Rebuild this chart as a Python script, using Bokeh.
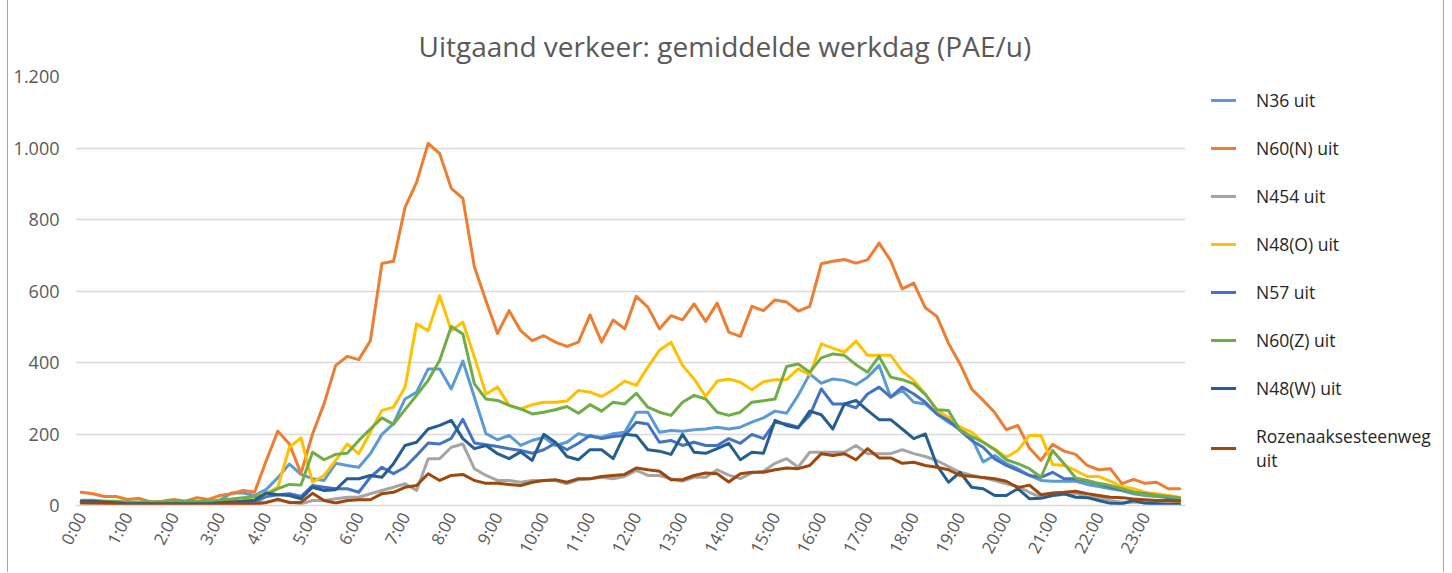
from bokeh.plotting import figure
from bokeh.models import Legend, LegendItem, FixedTicker, Range1d
from bokeh.embed import file_html
from bokeh.resources import INLINE
import math

# ---------------- data ----------------
slots = list(range(96))  # quarter hours 0:00 .. 23:45
hour_ticks = list(range(0, 96, 4))
hour_labels = [f"{h}:00" for h in range(24)]
y_ticks = [0, 200, 400, 600, 800, 1000, 1200]
y_labels = ["0", "200", "400", "600", "800", "1.000", "1.200"]

title_text = "Uitgaand verkeer: gemiddelde werkdag (PAE/u)"

names = ["N36 uit", "N60(N) uit", "N454 uit", "N48(O) uit", "N57 uit",
         "N60(Z) uit", "N48(W) uit", "Rozenaaksesteenweg\nuit"]

n36 = [12, 12, 10, 8, 6, 5, 5, 5, 5, 5, 6, 8, 15, 35, 35, 28, 45, 78, 116, 87,
       75, 70, 118, 112, 107, 145, 199, 229, 298, 317, 382, 382, 326, 404, 303, 201, 184, 196, 168, 182, 191,
       168, 177, 201, 193, 191, 201, 205, 261, 261, 205, 210, 208, 212, 214, 219, 214, 219, 233, 245, 264,
       258, 308, 368, 342, 354, 350, 338, 359, 392, 303, 322, 289, 284, 256, 233, 214, 189, 122, 140,
       117, 103, 84, 70, 68, 68, 68, 59, 53, 47, 42, 33, 28, 25, 23, 22]

n60n = [37, 33, 25, 25, 17, 20, 10, 12, 17, 12, 22, 17, 28, 33, 42, 38, 126, 208, 172, 90,
        200, 285, 392, 417, 408, 461, 677, 683, 834, 904, 1013, 984, 887, 859, 667, 573, 481, 545, 489, 461, 475,
        457, 445, 457, 533, 457, 519, 494, 585, 555, 494, 531, 519, 564, 515, 566, 485, 473, 557, 545, 575,
        569, 544, 557, 676, 683, 688, 678, 687, 734, 685, 606, 622, 553, 529, 454, 396, 326, 294, 260,
        212, 224, 161, 126, 171, 152, 143, 112, 100, 103, 61, 73, 62, 65, 47, 47]

n454 = [5, 5, 4, 3, 3, 3, 3, 3, 3, 3, 3, 3, 4, 5, 6, 8, 10, 15, 10, 5,
        14, 14, 19, 23, 23, 33, 42, 51, 61, 42, 131, 131, 163, 172, 103, 84, 70, 70, 65, 70, 70,
        70, 61, 72, 75, 79, 75, 81, 98, 84, 84, 75, 68, 79, 79, 100, 85, 75, 91, 96, 118,
        131, 107, 149, 149, 149, 149, 168, 145, 145, 145, 156, 145, 137, 126, 109, 93, 85, 78, 70,
        61, 53, 37, 23, 28, 31, 34, 23, 22, 14, 9, 9, 9, 9, 6, 5]

n48o = [10, 10, 8, 6, 5, 5, 5, 5, 6, 6, 8, 8, 10, 12, 18, 25, 35, 51, 163, 189,
        65, 84, 126, 172, 145, 205, 266, 275, 331, 508, 489, 587, 489, 513, 415, 312, 331, 280, 270, 282, 289,
        289, 292, 322, 317, 305, 324, 348, 336, 387, 434, 457, 392, 354, 305, 348, 354, 345, 324, 346, 352,
        352, 382, 366, 452, 440, 429, 460, 420, 420, 420, 376, 350, 312, 266, 247, 219, 205, 177, 158,
        135, 154, 196, 196, 115, 112, 98, 81, 81, 68, 53, 47, 37, 33, 28, 23]

n57 = [10, 10, 8, 5, 5, 5, 3, 3, 3, 3, 5, 5, 3, 3, 5, 10, 25, 30,
       33, 25, 56, 51, 47, 47, 37, 79, 107, 89, 107, 140, 175, 172, 188, 241, 175, 170, 165, 159, 154, 146, 156,
       174, 156, 174, 196, 187, 193, 196, 233, 228, 177, 182, 168, 177, 168, 168, 187, 174, 199, 187, 233,
       228, 219, 252, 326, 284, 284, 273, 312, 331, 303, 331, 312, 289, 256, 238, 210, 182, 163, 130,
       112, 98, 84, 79, 93, 75, 75, 68, 61, 51, 44, 37, 33, 28, 22, 16]

n60z = [15, 15, 12, 12, 10, 10, 10, 10, 12, 12, 12, 12, 15, 18, 22, 25,
        30, 47, 59, 57,
        149, 128, 143, 146, 182, 214, 245, 227, 268, 308, 350, 406, 501, 480, 340, 298, 294, 280, 270, 256, 261,
        268, 277, 258, 282, 264, 289, 284, 314, 275, 261, 252, 289, 308, 298, 261, 252, 261, 289, 293, 298,
        389, 396, 373, 413, 424, 420, 394, 373, 417, 359, 352, 340, 310, 268, 266, 210, 193, 177, 156,
        128, 117, 103, 79, 154, 117, 77, 70, 62, 56, 47, 37, 31, 28, 25, 22]

n48w = [12, 12, 10, 8, 5, 5, 5, 5, 5, 5, 5, 5, 8, 10, 12, 15, 35, 30,
        28, 19, 51, 42, 44, 75, 75, 84, 79, 117, 168, 177, 214, 224, 238, 187, 159, 168, 145, 131, 150, 126, 199,
        177, 137, 128, 156, 156, 131, 199, 196, 156, 152, 143, 199, 149, 146, 159, 174, 128, 149, 146, 238,
        224, 217, 264, 254, 214, 284, 294, 266, 240, 240, 214, 187, 200, 112, 65, 93, 51, 47, 28,
        28, 47, 19, 20, 28, 33, 23, 22, 14, 6, 5, 14, 6, 5, 3, 3]

rozen = [8, 7, 6, 4, 3, 3, 3, 3, 3, 3, 3, 3, 4, 5, 5, 4, 8, 18, 8, 9,
         34, 14, 7, 14, 16, 16, 33, 37, 51, 56, 89, 70, 84, 87, 70, 62, 62, 59, 56, 65, 70,
         72, 65, 75, 75, 81, 84, 87, 105, 100, 96, 72, 72, 84, 91, 89, 66, 89, 93, 93, 100,
         105, 103, 112, 145, 140, 145, 128, 159, 133, 133, 118, 121, 112, 107, 100, 84, 82, 78, 75,
         68, 50, 57, 30, 35, 37, 40, 33, 28, 23, 22, 18, 16, 14, 14, 12]

series = [n36, n60n, n454, n48o, n57, n60z, n48w, rozen]

# ---------------- style ----------------
colors = ["#5B9BD5", "#ED7D31", "#A5A5A5", "#FFC000", "#4472C4", "#70AD47", "#255E91", "#9E480E"]
FONT = "Open Sans"
GREY = "#595959"

p = figure(frame_width=1110, frame_height=429, output_backend="svg", toolbar_location=None,
           x_range=Range1d(-0.5, 95.5), y_range=Range1d(0, 1200),
           min_border_left=75, min_border_right=266, min_border_top=76, min_border_bottom=67)
p.outline_line_color = None
p.background_fill_color = "white"
p.border_fill_color = None
p.styles = {"background": "linear-gradient(to right, #ffffff 7px, #A6A6A6 7px, #A6A6A6 8px, "
                          "#ffffff 8px, #ffffff 1443px, #A6A6A6 1443px, #A6A6A6 1444px, #ffffff 1444px)"}

p.title.text = title_text
p.title.align = "left"
p.title.offset = 343
p.title.standoff = 23
p.title.text_font = FONT
p.title.text_font_size = "28px"
p.title.text_font_style = "normal"
p.title.text_color = GREY

items = []
for name, vals, col in zip(names, series, colors):
    r = p.line(slots, vals, line_color=col, line_width=3, line_join="round", line_cap="round")
    items.append(LegendItem(label=name, renderers=[r]))

# axes
p.xaxis.ticker = FixedTicker(ticks=hour_ticks)
p.xaxis.major_label_overrides = {t: l for t, l in zip(hour_ticks, hour_labels)}
p.xaxis.major_label_orientation = math.radians(62)
p.xaxis.major_label_text_font = FONT
p.xaxis.major_label_text_font_size = "17px"
p.xaxis.major_label_text_color = GREY
p.xaxis.major_tick_line_color = None
p.xaxis.major_tick_out = 0
p.xaxis.major_tick_in = 0
p.xaxis.minor_tick_line_color = None
p.xaxis.axis_line_color = "#D9D9D9"
p.xaxis.axis_line_width = 1.5
p.xaxis.major_label_standoff = 8

p.yaxis.ticker = FixedTicker(ticks=y_ticks)
p.yaxis.major_label_overrides = {t: l for t, l in zip(y_ticks, y_labels)}
p.yaxis.major_label_text_font = FONT
p.yaxis.major_label_text_font_size = "18px"
p.yaxis.major_label_text_color = GREY
p.yaxis.major_tick_line_color = None
p.yaxis.major_tick_out = 0
p.yaxis.major_tick_in = 0
p.yaxis.minor_tick_line_color = None
p.yaxis.axis_line_color = None
p.yaxis.major_label_standoff = 16

p.xgrid.grid_line_color = None
p.ygrid.grid_line_color = "#D9D9D9"
p.ygrid.grid_line_width = 1.5

legend = Legend(items=items, location=(26, 33), orientation="vertical",
                label_text_font=FONT, label_text_font_size="17.5px", label_text_color="#262626",
                glyph_width=25, glyph_height=20, label_height=20, label_standoff=20,
                spacing=24, padding=0, margin=0, border_line_color=None,
                background_fill_alpha=0)
p.add_layout(legend, "right")

open("out.html", "w").write(file_html(p, INLINE))
